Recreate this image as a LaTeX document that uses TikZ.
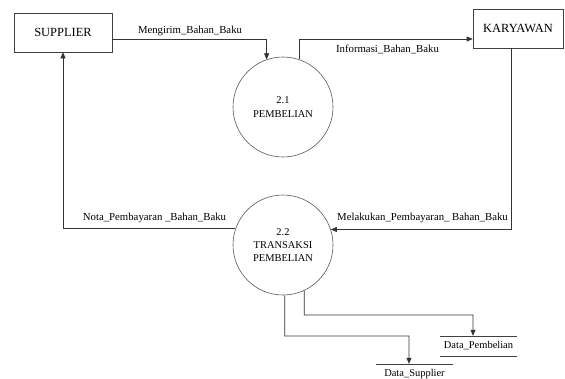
\documentclass[tikz,border=0pt]{standalone}
\usepackage{fontspec}
\setmainfont{Liberation Serif}
\usetikzlibrary{arrows.meta}
\begin{document}
\begin{tikzpicture}[x=1bp,y=-1bp,
  ent/.style={draw=black!75, line width=0.6bp, minimum height=39bp, inner sep=0pt, font=\fontsize{12.5}{14}\selectfont},
  proc/.style={circle, draw=black!65, line width=0.6bp, minimum size=100bp, inner sep=0pt, align=center, font=\fontsize{10.5}{13.5}\selectfont},
  flow/.style={draw=black!80, line width=0.6bp, -{Triangle[length=6bp,width=5bp]}},
  lbl/.style={font=\fontsize{10.8}{12}\selectfont, inner sep=0pt},
  store/.style={minimum width=77bp, minimum height=20bp, inner sep=0pt, font=\fontsize{10.5}{12}\selectfont},
  storeline/.style={draw=black!75, line width=0.6bp}]
\useasboundingbox[fill=white] (0,0) rectangle (565,378);
\node[ent, minimum width=98bp] (sup) at (63,32.5) {SUPPLIER};
\node[ent, minimum width=90bp] (kar) at (518,28.5) {KARYAWAN};
\node[proc] (p1) at (283,107) {2.1\\PEMBELIAN};
\node[proc] (p2) at (283,245) {2.2\\TRANSAKSI\\PEMBELIAN};
\node[store] (dp) at (478.5,346) {Data\_Pembelian};
\node[store] (ds) at (414.5,374) {Data\_Supplier};
\draw[storeline] (dp.north west) -- (dp.north east) (dp.south west) -- (dp.south east);
\draw[storeline] (ds.north west) -- (ds.north east);
\coordinate (j1) at (409,336);
\coordinate (j2) at (473,315);
\draw[flow] ([yshift=-6.5bp]sup.east) -| (p1.109);
\draw[flow] (p1.71) |- ([yshift=-10.5bp]kar.west);
\draw[flow] ([xshift=-7bp]kar.south) |- (p2.18.7);
\draw[flow] (p2.161.3) -| (sup.south);
\draw[flow] (p2.272) |- (j1) -- ([xshift=-5.5bp]ds.north);
\draw[flow] (p2.295) |- (j2) -- ([xshift=-5.5bp]dp.north);
\node[lbl] (l1) at (190,31) {Mengirim\_Bahan\_Baku};
\node[lbl] (l2) at (387.5,49) {Informasi\_Bahan\_Baku};
\node[lbl] (l3) at (154.5,218) {Nota\_Pembayaran \_Bahan\_Baku};
\node[lbl] (l4) at (422.5,218) {Melakukan\_Pembayaran\_ Bahan\_Baku};
\end{tikzpicture}
\end{document}
